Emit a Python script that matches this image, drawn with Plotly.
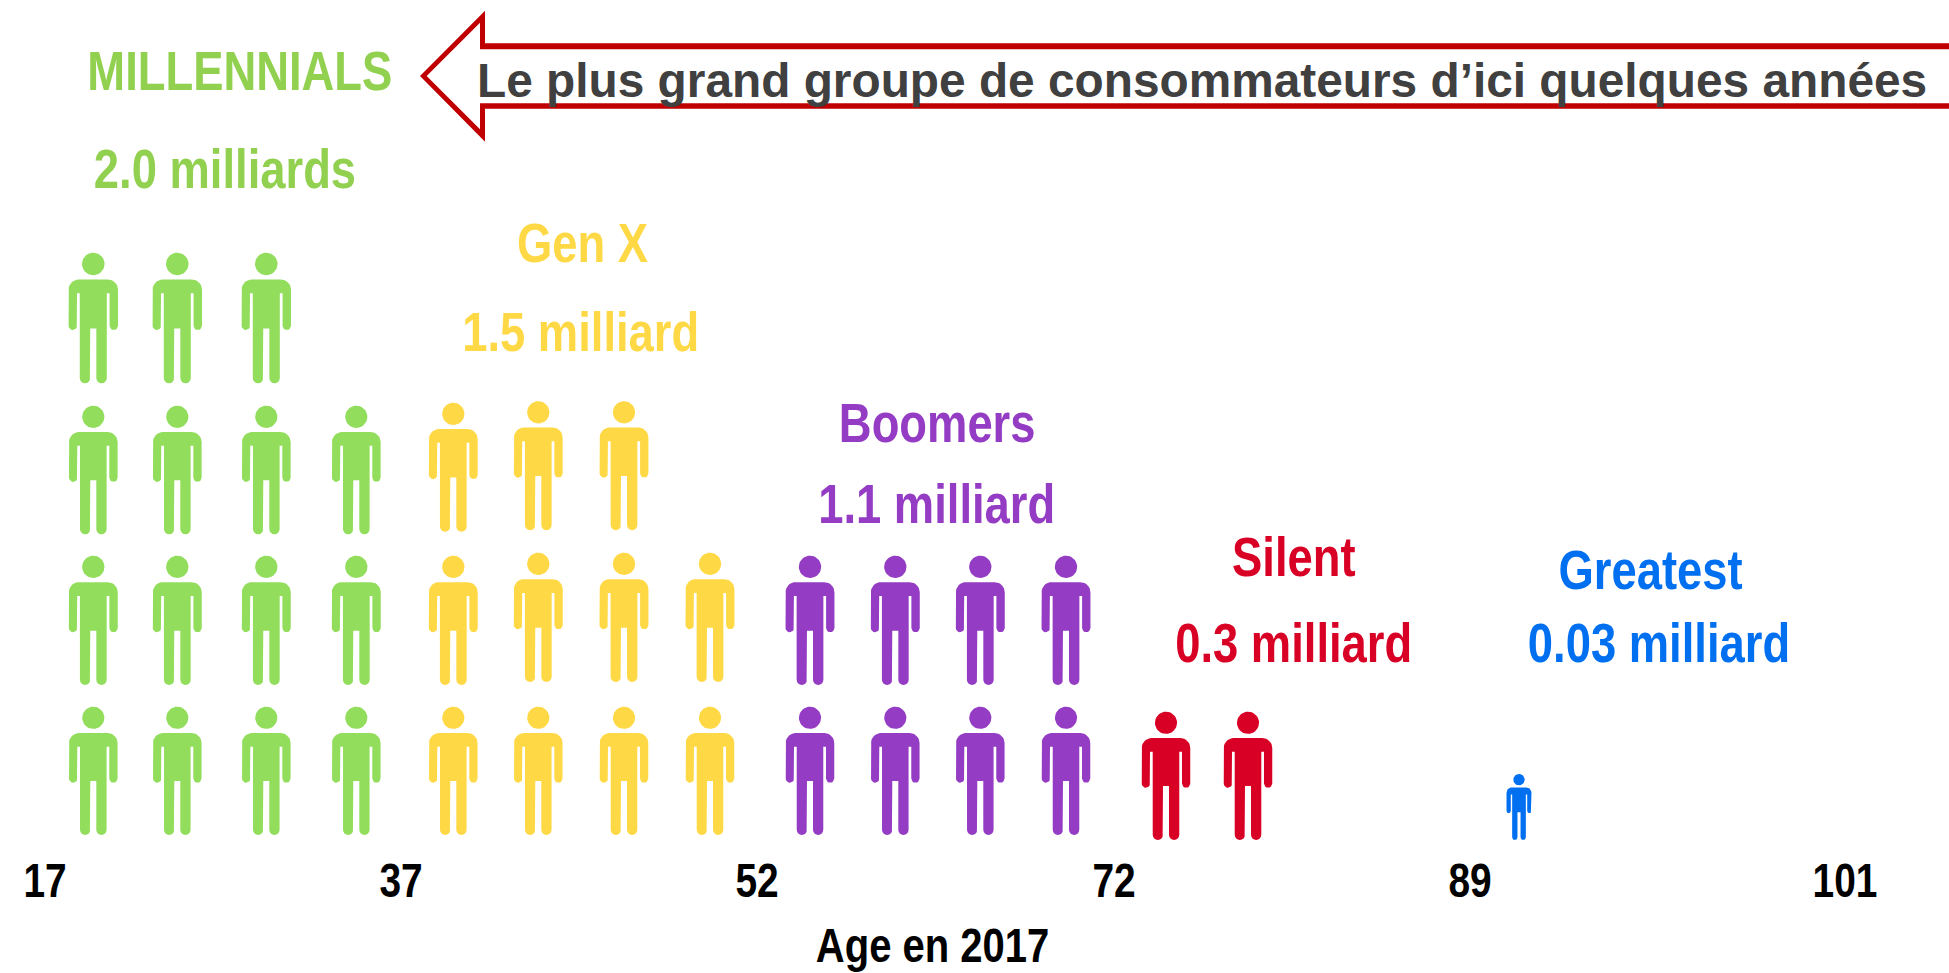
import math
import plotly.graph_objects as go

# ---- data ----
GENERATIONS = ["MILLENNIALS", "Gen X", "Boomers", "Silent", "Greatest"]
POPULATION = ["2.0 milliards", "1.5 milliard", "1.1 milliard", "0.3 milliard", "0.03 milliard"]
ICONS_PER_ROW = [[4, 4, 4, 3], [4, 4, 3], [4, 4], [2], [1]]   # bottom row first
AGE_TICKS = ["17", "37", "52", "72", "89", "101"]
AXIS_TITLE = "Age en 2017"
CALLOUT = "Le plus grand groupe de consommateurs d’ici quelques années"

# ---- styles and placement ----
ICON_COLORS = ["#92DE5C", "#FFD945", "#943CC3", "#D90026", "#0070F0"]
TEXT_COLORS = ["#92D050", "#FFD945", "#943CC3", "#D90026", "#0070F0"]
COLUMN_X = [
    [93.3, 177.3, 266.3, 356.3],
    [453.3, 538.3, 624, 710],
    [810, 895.3, 980.3, 1066],
    [1166, 1248],
    [1519],
]
ROW_BOTTOM = [
    [835, 685, 534.3, 383.3],
    [835, 685, 531.7],
    [835, 685],
    [840],
    [840],
]
ROW_HEIGHT = [
    [128.3, 129.3, 128.6, 130.6],
    [128.3, 129.3, 129],
    [128.3, 129.3],
    [128.3],
    [66],
]
# small offsets of single icons in the yellow block: {(row, column): dy}
YELLOW_NUDGE = {(1, 1): -3, (1, 2): -3, (1, 3): -3, (2, 1): -1.5, (2, 2): -1.5}
NAME_POS = [(239.5, 90), (582, 262.5), (936.7, 441.7), (1294, 576), (1650, 589)]
POP_POS = [(225, 187.7), (580, 351.5), (936, 523), (1293, 661.7), (1659, 661.7)]
TICK_X = [45, 401, 757, 1114, 1470, 1845]
FONT = "Liberation Sans"
LABEL_SIZE = 55
LABEL_NARROWING = 0.825   # the reference uses a condensed bold face
TICK_NARROWING = 0.81
PLOT_BOTTOM = 848


def arc(cx, cy, r, a0, a1, n=8):
    return [(cx + r * math.cos(math.radians(a0 + (a1 - a0) * i / n)),
             cy + r * math.sin(math.radians(a0 + (a1 - a0) * i / n))) for i in range(n + 1)]


def icon_outline():
    """Person pictogram in units where the height is 1, x centred on 0, y from the head down."""
    k = 1 / 128.5
    w, arm, gap_top, arm_b, torso, crotch, leg_in, sh, rc = 24.3, 8.3, 40, 72, 13.3, 74.5, 3, 26.3, 10
    foot = 128.5
    half = []
    half += arc(w - rc, sh + rc, rc, -90, 0)
    half += arc(w - arm / 2, arm_b, arm / 2, 0, 180)
    half += [(w - arm, gap_top), (torso, gap_top)]
    half += arc(torso - 5.15, foot - 5.15, 5.15, 0, 180)
    half += [(leg_in, crotch)]
    right = [(x * k, y * k) for x, y in half]
    left = [(-x, y) for x, y in reversed(right)]
    body = right + left
    body.append(body[0])
    head = [(x * k, y * k) for x, y in arc(0, 11.1, 11.1, 0, 360, 36)]
    return body, head


BODY, HEAD = icon_outline()

fig = go.Figure()

# Call-out arrow (runs off the right-hand edge)
arrow_x_out = [420, 485, 485, 1970, 1970, 485, 485, 420]
arrow_y_out = [76, 10.7, 43.3, 43.3, 108.7, 108.7, 141.7, 76]
arrow_x_in = [426.7, 480, 480, 1970, 1970, 480, 480, 426.7]
arrow_y_in = [76, 22.7, 49.3, 49.3, 103.3, 103.3, 129.3, 76]
for ax, ay, col in [(arrow_x_out, arrow_y_out, "#C00000"), (arrow_x_in, arrow_y_in, "#FFFFFF")]:
    fig.add_trace(go.Scatter(x=ax, y=ay, mode="lines", fill="toself", fillcolor=col,
                             line=dict(width=0), hoverinfo="skip", showlegend=False))

# People
for g, name in enumerate(GENERATIONS):
    xs, ys = [], []
    for r, count in enumerate(ICONS_PER_ROW[g]):
        h = ROW_HEIGHT[g][r]
        for c in range(count):
            cx = COLUMN_X[g][c]
            top = ROW_BOTTOM[g][r] - h + (YELLOW_NUDGE.get((r, c), 0) if g == 1 else 0)
            for part in (BODY, HEAD):
                xs += [cx + px * h for px, _ in part] + [None]
                ys += [top + py * h for _, py in part] + [None]
    fig.add_trace(go.Scatter(x=xs, y=ys, mode="lines", fill="toself", name=name,
                             fillcolor=ICON_COLORS[g], line=dict(width=0),
                             hoverinfo="name", showlegend=False))


def label(text, x, baseline, size, color):
    fig.add_annotation(x=x, y=(PLOT_BOTTOM - (baseline - 0.3465 * size)) / PLOT_BOTTOM,
                       text=f"<b>{text}</b>", showarrow=False,
                       xanchor="center", yanchor="middle", xref="x", yref="paper",
                       font=dict(family=FONT, size=size, color=color))


for g in range(len(GENERATIONS)):
    label(GENERATIONS[g], *NAME_POS[g], LABEL_SIZE, TEXT_COLORS[g])
    label(POPULATION[g], *POP_POS[g], LABEL_SIZE, TEXT_COLORS[g])

label(CALLOUT, 1202, 97.5, 47.8, "#404040")
label(AXIS_TITLE, 932, 961.5, 48.5, "#000000")

fig.update_layout(
    width=1949, height=973, margin=dict(l=0, r=0, t=0, b=973 - PLOT_BOTTOM),
    paper_bgcolor="white", plot_bgcolor="white", showlegend=False,
    xaxis=dict(range=[0, 1949], tickmode="array", tickvals=TICK_X, ticktext=AGE_TICKS,
               showgrid=False, zeroline=False, showline=False, ticks="",
               tickfont=dict(family=FONT, size=48, color="#000000", weight=700)),
    yaxis=dict(range=[PLOT_BOTTOM, 0], visible=False),
)

NARROW_JS = """
document.body.style.margin = '0';
var callout = %r;
function narrow(sel, s) {
  document.querySelectorAll(sel).forEach(function (t) {
    if (t.textContent === callout) return;
    var b = t.getBBox(), c = b.x + b.width / 2, old = t.getAttribute('transform') || '';
    t.setAttribute('transform', old + ' translate(' + c + ',0) scale(' + s + ',1) translate(' + (-c) + ',0)');
  });
}
narrow('.annotation-text', %s);
narrow('.xtick text', %s);
""" % (CALLOUT, LABEL_NARROWING, TICK_NARROWING)

fig.write_html("out.html", post_script=NARROW_JS, config={"displayModeBar": False})
